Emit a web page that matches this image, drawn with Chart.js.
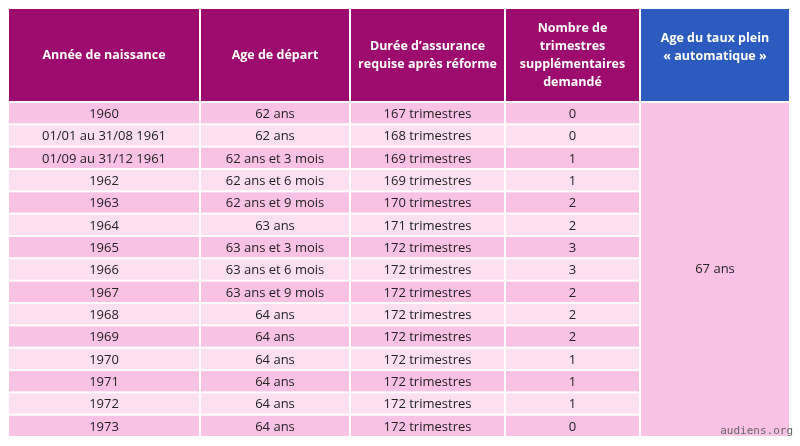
<!DOCTYPE html>
<html><head><meta charset="utf-8">
<script src="https://cdn.jsdelivr.net/npm/chart.js@4"></script>
<style>body{margin:0;background:#fff}canvas{display:block}</style>
</head><body><canvas id="c" width="800" height="446"></canvas>
<script>
const headers = [["Année de naissance"],["Age de départ"],["Durée d’assurance","requise après réforme"],["Nombre de","trimestres","supplémentaires","demandé"],["Age du taux plein","« automatique »"]];
const birthYears = ["1960","01/01 au 31/08 1961","01/09 au 31/12 1961","1962","1963","1964","1965","1966","1967","1968","1969","1970","1971","1972","1973"];
const departAges = ["62 ans","62 ans","62 ans et 3 mois","62 ans et 6 mois","62 ans et 9 mois","63 ans","63 ans et 3 mois","63 ans et 6 mois","63 ans et 9 mois","64 ans","64 ans","64 ans","64 ans","64 ans","64 ans"];
const quarters = [167,168,169,169,170,171,172,172,172,172,172,172,172,172,172];
const extraQuarters = [0,0,1,1,2,2,3,3,2,2,2,1,1,1,0];
const fullRateAge = "67 ans";

// layout (not data)
const colEdges = [8,200,350,505,640,790];
const headTop = 9, headBottom = 102, rowBottom = 437;

const tablePlugin = {
  id:'table',
  afterDraw(chart){
    const {ctx, scales:{x,y}} = chart;
    const n = birthYears.length;
    const rh = (rowBottom-headBottom)/n;
    const X = v=>x.getPixelForValue(v), Y = v=>y.getPixelForValue(v);
    const rect=(x0,y0,x1,y1,col)=>{ctx.fillStyle=col;ctx.fillRect(X(x0),Y(y0),X(x1)-X(x0),Y(y1)-Y(y0));};
    ctx.save();
    ctx.textAlign='center';
    // header
    for(let c=0;c<5;c++){
      rect(colEdges[c]+1,headTop,colEdges[c+1]-1,headBottom-1,c===4?'#2c5bc0':'#9c0b6d');
      ctx.fillStyle='#fff';ctx.font='bold 12.5px "Open Sans", Lato, sans-serif';ctx.textBaseline='middle';
      const lines=headers[c], lh=18;
      const cx=(colEdges[c]+colEdges[c+1])/2;
      const startY = c===4 ? 38 : (headTop+headBottom)/2-(lines.length-1)*lh/2;
      lines.forEach((l,i)=>ctx.fillText(l,X(cx),Y(startY+i*lh)));
    }
    // rows
    ctx.font='13px "Open Sans", Lato, sans-serif';
    for(let r=0;r<n;r++){
      const y0=headBottom+r*rh, y1=y0+rh;
      const vals=[birthYears[r],departAges[r],quarters[r]+" trimestres",String(extraQuarters[r])];
      for(let c=0;c<4;c++){
        rect(colEdges[c]+1,y0+1,colEdges[c+1]-1,y1-1,r%2===0?'#f9c2e4':'#fce0f2');
        ctx.fillStyle='#222';
        ctx.fillText(vals[c],X((colEdges[c]+colEdges[c+1])/2),Y((y0+y1)/2+1));
      }
    }
    rect(colEdges[4]+1,headBottom+1,colEdges[5]-1,rowBottom-1,'#f9c2e4');
    ctx.fillStyle='#222';
    ctx.fillText(fullRateAge,X((colEdges[4]+colEdges[5])/2),Y((headBottom+rowBottom)/2));
    ctx.font='11px "DejaVu Sans Mono", monospace';ctx.fillStyle='#666';ctx.textAlign='right';
    ctx.fillText('audiens.org',X(793),Y(431));
    ctx.restore();
  }
};

new Chart(document.getElementById('c'),{
  type:'scatter',
  data:{datasets:[{data:[]}]},
  options:{responsive:false,animation:false,layout:{padding:0},
    plugins:{legend:{display:false},tooltip:{enabled:false}},
    scales:{x:{type:'linear',min:0,max:800,display:false},y:{type:'linear',min:0,max:446,reverse:true,display:false}}},
  plugins:[tablePlugin]
});
</script></body></html>
